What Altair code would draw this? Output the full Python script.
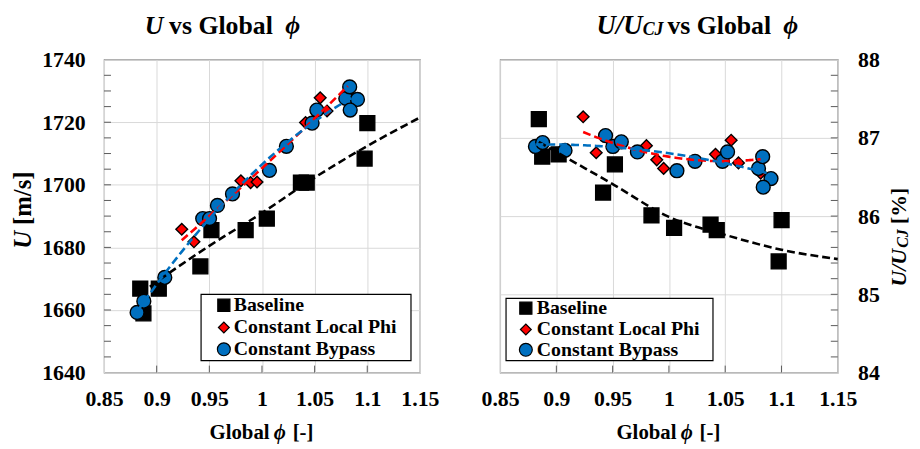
import altair as alt
import pandas as pd

# ---------------- data ----------------
series = ["Baseline", "Constant Local Phi", "Constant Bypass"]
colors = ["#000000", "#FF0000", "#0070C0"]
shapes = ["square", "diamond", "circle"]
marker_sizes = [225, 140, 196]

phi_base = [0.8844, 0.8874, 0.902, 0.9415, 0.952, 0.9845, 1.0046, 1.037, 1.0425, 1.0975, 1.1001]
U_base = [1666.8, 1658.9, 1666.8, 1673.9, 1685.5, 1685.5, 1689.2, 1700.7, 1700.7, 1708.4, 1719.7]
R_base = [87.24, 86.76, 86.79, 86.30, 86.66, 86.01, 85.85, 85.89, 85.82, 85.42, 85.95]

phi_lp = [0.9238, 0.9354, 0.980, 0.9892, 0.9953, 1.0414, 1.0553, 1.0618, 1.0815]
U_lp = [1685.8, 1681.8, 1701.3, 1700.7, 1700.9, 1719.9, 1727.8, 1723.6, 1729.0]
R_lp = [87.27, 86.81, 86.90, 86.72, 86.61, 86.79, 86.97, 86.68, 86.55]

phi_byp = [0.8814, 0.8878, 0.9077, 0.9437, 0.9502, 0.9577, 0.972, 1.0071, 1.0232, 1.0476, 1.0521,
           1.0796, 1.0833, 1.0907, 1.0838]
U_byp = [1659.2, 1662.8, 1670.4, 1689.2, 1689.2, 1693.4, 1697.1, 1704.6, 1712.3, 1719.7, 1723.9,
         1727.6, 1731.3, 1727.3, 1723.9]
R_byp = [86.89, 86.94, 86.84, 87.03, 86.89, 86.95, 86.82, 86.58, 86.70, 86.70, 86.82,
         86.61, 86.76, 86.48, 86.37]

# baseline trend line (black dashed)
trend_phi = [0.8844, 0.9, 0.95, 1.0, 1.05, 1.1, 1.15]
trend_U = [1665.2, 1669.0, 1680.5, 1691.0, 1702.3, 1712.4, 1721.5]
trend_R = [86.95, 86.82, 86.41, 85.99, 85.76, 85.57, 85.45]

x_ticks = [0.85, 0.9, 0.95, 1.0, 1.05, 1.1, 1.15]
x_inner_ticks = [0.9, 0.95, 1.0, 1.05, 1.1]
u_ticks = [1640, 1660, 1680, 1700, 1720, 1740]
r_ticks = [84, 85, 86, 87, 88]
u_minor = [1645, 1650, 1655, 1660, 1665, 1670, 1675, 1680, 1685, 1690, 1695, 1700, 1705, 1710,
           1715, 1720, 1725, 1730, 1735]
r_minor = [84.2, 84.4, 84.6, 84.8, 85.0, 85.2, 85.4, 85.6, 85.8, 86.0, 86.2, 86.4, 86.6, 86.8,
           87.0, 87.2, 87.4, 87.6, 87.8]

frames = []
for s, p, u, r in zip(series, [phi_base, phi_lp, phi_byp], [U_base, U_lp, U_byp], [R_base, R_lp, R_byp]):
    frames.append(pd.DataFrame({"phi": p, "U": u, "R": r, "series": s}))
df = pd.concat(frames, ignore_index=True)
trend_df = pd.DataFrame({"phi": trend_phi, "U": trend_U, "R": trend_R})

# ---------------- styling ----------------
FONT = "Liberation Serif"
W_L, W_R, H = 319, 341, 316
GRID = "#d9d9d9"
TICKC = "#595959"

xscale = alt.Scale(domain=[0.85, 1.15], nice=False, zero=False)
uscale = alt.Scale(domain=[1640, 1740], nice=False, zero=False)
rscale = alt.Scale(domain=[84, 88], nice=False, zero=False)

xaxis = alt.Axis(values=x_ticks, format="~g", title=None, grid=True, gridColor=GRID,
                 domain=False, ticks=False, labelFont=FONT, labelFontSize=22,
                 labelFontWeight="bold", labelColor="black", labelPadding=16, labelFlush=False)
uaxis = alt.Axis(values=u_ticks, format="d", title=None, grid=True, gridColor=GRID,
                 domain=False, ticks=False, labelFont=FONT, labelFontSize=22,
                 labelFontWeight="bold", labelColor="black", labelPadding=19)
raxis = alt.Axis(values=r_ticks, format="d", title=None, grid=True, gridColor=GRID, orient="right",
                 domain=False, ticks=False, labelFont=FONT, labelFontSize=22,
                 labelFontWeight="bold", labelColor="black", labelPadding=20)


def txt(t, x, y, size=22, italic=False, angle=0, align="left", baseline="alphabetic"):
    kw = dict(font=FONT, fontSize=size, fontWeight="bold", color="black", align=align,
              baseline=baseline, fontStyle="italic" if italic else "normal")
    if angle:
        kw["angle"] = angle
    return alt.Chart(pd.DataFrame({"t": [t]})).mark_text(**kw).encode(
        text="t:N", x=alt.value(x), y=alt.value(y))


def panel(ycol, yscale, yaxis, width, minor, tick_side, legend_pos, title_parts, ytitle_parts):
    X = alt.X("phi:Q", scale=xscale, axis=xaxis)
    Y = alt.Y(f"{ycol}:Q", scale=yscale, axis=yaxis)
    layers = []
    # inner ticks
    tdf = pd.DataFrame({ycol: minor})
    if tick_side == "left":
        layers.append(alt.Chart(tdf).mark_rule(color=TICKC, strokeWidth=1).encode(
            y=Y, x=alt.value(0), x2=alt.value(7)))
    else:
        layers.append(alt.Chart(tdf).mark_rule(color=TICKC, strokeWidth=1).encode(
            y=Y, x=alt.value(width - 7), x2=alt.value(width)))
    xdf = pd.DataFrame({"phi": x_inner_ticks})
    layers.append(alt.Chart(xdf).mark_rule(color=TICKC, strokeWidth=1).encode(
        x=X, y=alt.value(H - 7), y2=alt.value(H)))
    # markers
    for s, c, sh, sz in zip(series, colors, shapes, marker_sizes):
        layers.append(alt.Chart(df[df.series == s]).mark_point(
            filled=True, shape=sh, fill=c, stroke="black", strokeWidth=1.4, size=sz, opacity=1
        ).encode(x=X, y=Y))
    # trend lines
    layers.append(alt.Chart(trend_df).mark_line(
        color="black", strokeDash=[8, 4], strokeWidth=2.6, interpolate="monotone").encode(x=X, y=Y))
    for s, c in zip(series[1:], colors[1:]):
        sub = df[df.series == s]
        layers.append(alt.Chart(sub).transform_regression("phi", ycol, method="poly", order=2).mark_line(
            color=c, strokeDash=[8, 4], strokeWidth=2.6).encode(x=X, y=Y))
    # legend (drawn inside the plot)
    bx, by, bw, bh, sx, tx, rows = legend_pos
    layers.append(alt.Chart(pd.DataFrame({"a": [0]})).mark_rect(
        fill="white", stroke="black", strokeWidth=1.2).encode(
        x=alt.value(bx), x2=alt.value(bx + bw), y=alt.value(by), y2=alt.value(by + bh)))
    leg_sizes = [150, 120, 170]
    for s, c, sh, sz, ry in zip(series, colors, shapes, leg_sizes, rows):
        layers.append(alt.Chart(pd.DataFrame({"a": [0]})).mark_point(
            filled=True, shape=sh, fill=c, stroke="black", strokeWidth=1.2, size=sz, opacity=1
        ).encode(x=alt.value(sx), y=alt.value(ry)))
        layers.append(txt(s, tx, ry, size=20, baseline="middle"))
    # title and axis titles
    for t, x, size, it, dy in title_parts:
        layers.append(txt(t, x, -26 + dy, size=size, italic=it))
    c = width / 2
    layers.append(txt("Global", c - 53, H + 67, size=21))
    layers.append(txt("\u03d5", c + 12, H + 67, size=21, italic=True))
    layers.append(txt("[-]", c + 31, H + 67, size=21))
    for t, x, y, size, it in ytitle_parts:
        layers.append(txt(t, x, y, size=size, italic=it, angle=270))
    return alt.layer(*layers).properties(width=width, height=H)


left = panel(
    "U", uscale, uaxis, W_L, u_minor, "left",
    (98, 237, 212, 67, 121, 131, [248, 270.5, 292.5]),
    [("U", 41, 26, True, 0), ("vs Global", 65.7, 26, False, 0), ("\u03d5", 183, 26, True, 0)],
    [("U", -74, 191, 25, True), ("[m/s]", -74, 167, 25, False)],
)
right = panel(
    "R", rscale, raxis, W_R, r_minor, "right",
    (6, 241, 209, 63, 26, 37, [251, 272.5, 293]),
    [("U/U", 97.3, 27, True, 0), ("CJ", 144, 18, True, 1), ("vs Global", 169, 26, False, 0),
     ("\u03d5", 286, 26, True, 0)],
    [("U/U", 410, 229, 22, True), ("CJ", 412, 190, 16, True), ("[%]", 410, 166, 22, False)],
)

chart = alt.hconcat(left, right, spacing=81, bounds="flush").properties(
    padding={"left": 2, "top": 1, "right": 0, "bottom": 0}
).configure_view(stroke="#7f7f7f", strokeWidth=1.2)

chart.save("out.html", embed_options={"renderer": "svg", "actions": False})
